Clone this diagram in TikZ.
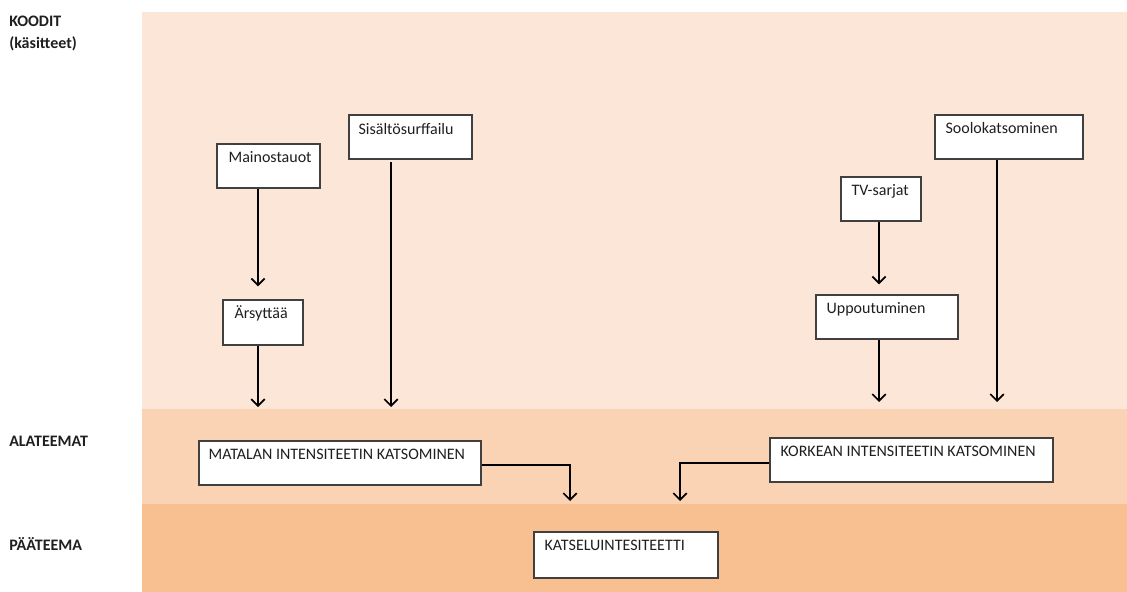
\documentclass[tikz,border=0pt]{standalone}
\usepackage{fontspec}
\setmainfont{Carlito}
\usetikzlibrary{arrows.meta,calc,fit}
\definecolor{bandA}{HTML}{FCE6D8}
\definecolor{bandB}{HTML}{FAD3B4}
\definecolor{bandC}{HTML}{F8BF90}
\definecolor{ink}{HTML}{1F1F1F}
\tikzset{
  box/.style={draw=black!75, line width=1pt, fill=white, inner sep=0pt},
  txt/.style={anchor=base west, inner sep=0pt, font=\fontsize{12pt}{14pt}\selectfont, text=ink},
  lbl/.style={anchor=base west, inner sep=0pt, font=\fontsize{12pt}{14pt}\selectfont\bfseries, text=ink},
  arr/.style={line width=1.5pt, -{Straight Barb[length=5pt,width=10pt,line width=1.3pt]}},
}
\begin{document}
\begin{tikzpicture}[x=0.75pt,y=-0.75pt]
\useasboundingbox (0,0) rectangle (1127,592);
\fill[white] (0,0) rectangle (1127,592);
% bands
\fill[bandA] (142,12) rectangle (1127,409);
\fill[bandB] (142,409) rectangle (1127,504);
\fill[bandC] (142,504) rectangle (1127,592);
% left labels
\node[lbl] (koo) at (9,27) {KOODIT};
\node[lbl] (kas) at (9,49) {(käsitteet)};
\node[lbl] (ala) at (9,446) {ALATEEMAT};
\node[lbl] (paa) at (9,550) {PÄÄTEEMA};
% boxes
\node[box, fit={(217,144) (320,188)}] (mai) {};
\node[txt] (maiT) at ($(mai.north west)+(12,19)$) {Mainostauot};
\node[box, fit={(349,115) (472,159)}] (sis) {};
\node[txt] (sisT) at ($(sis.north west)+(10,20)$) {Sisältösurffailu};
\node[box, fit={(223,300) (303,345)}] (ars) {};
\node[txt] (arsT) at ($(ars.north west)+(12,19)$) {Ärsyttää};
\node[box, fit={(935,115) (1083,159)}] (soo) {};
\node[txt] (sooT) at ($(soo.north west)+(11,19)$) {Soolokatsominen};
\node[box, fit={(841,177) (921,221)}] (tvs) {};
\node[txt] (tvsT) at ($(tvs.north west)+(11,19)$) {TV-sarjat};
\node[box, fit={(816,295) (958,339)}] (upp) {};
\node[txt] (uppT) at ($(upp.north west)+(11,19)$) {Uppoutuminen};
\node[box, fit={(199,441) (481,485)}] (mat) {};
\node[txt] (matT) at ($(mat.north west)+(10,19)$) {MATALAN INTENSITEETIN KATSOMINEN};
\node[box, fit={(770,438) (1053,482)}] (kor) {};
\node[txt] (korT) at ($(kor.north west)+(11,19)$) {KORKEAN INTENSITEETIN KATSOMINEN};
\node[box, fit={(534,532) (718,578)}] (kat) {};
\node[txt] (katT) at ($(kat.north west)+(11,19)$) {KATSELUINTESITEETTI};
% free ends
\coordinate (e1) at (258,407);
\coordinate (e2) at (391,407);
\coordinate (e3) at (879,402);
\coordinate (e4) at (997,402);
\coordinate (s2) at (391,162);
\coordinate (m1) at (570,465);
\coordinate (m2) at (570,501);
\coordinate (k1) at (680,463);
\coordinate (k2) at (680,501);
% connectors
\draw[arr, shorten >=13*0.75pt] (mai.south -| e1) -- (e1 |- ars.north);
\draw[arr] (ars.south -| e1) -- (e1);
\draw[arr] (s2) -- (e2);
\draw[arr, shorten >=10*0.75pt] (tvs.south -| e3) -- (e3 |- upp.north);
\draw[arr] (upp.south -| e3) -- (e3);
\draw[arr] (soo.south -| e4) -- (e4);
\draw[arr] (mat.east |- m1) -- (m1) -- (m2);
\draw[arr] (kor.west |- k1) -- (k1) -- (k2);
\end{tikzpicture}
\end{document}
